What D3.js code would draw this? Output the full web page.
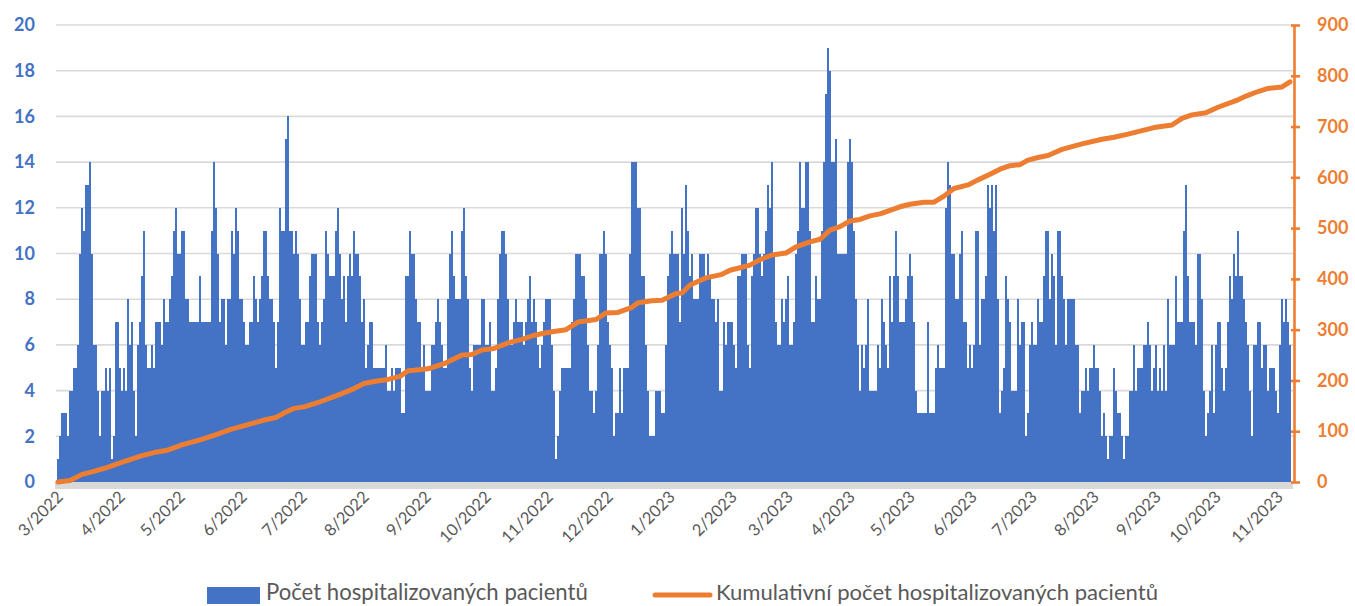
<!DOCTYPE html>
<html>
<head>
<meta charset="utf-8">
<script src="https://cdn.jsdelivr.net/npm/d3@7"></script>
<style>
  html, body { margin: 0; padding: 0; background: #fff; }
  svg { display: block; }
  text { font-family: Lato, "Open Sans", "Liberation Sans", sans-serif; }
</style>
</head>
<body>
<svg id="chart" width="1355" height="606"></svg>
<script>
// ---------------- DATA ----------------
const startDate = "2022-03-01";
const seriesBarName = "Počet hospitalizovaných pacientů";
const seriesLineName = "Kumulativní počet hospitalizovaných pacientů";

// daily number of hospitalised patients (one value per day from startDate)
const dailyCounts = [
  1,2,3,3,3,2,4,4,5,5,6,10,12,11,13,13,14,10,6,6,4,2,4,4,5,4,5,1,2,7,7,5,4,5,4,8,6,7,4,2,6,7,9,11,6,5,5,6,5,7,7,7,6,8,7,7,8,9,11,12,10,
  10,11,11,8,8,7,7,7,7,7,9,7,7,7,7,7,11,14,12,10,7,8,8,6,8,8,11,10,12,11,8,8,7,6,6,7,7,9,8,7,8,9,11,11,9,8,8,7,5,7,12,11,11,15,16,11,11,10,11,10,8,6,
  6,7,7,9,10,10,10,7,6,7,8,11,10,9,9,9,11,12,10,8,9,7,9,10,9,11,10,10,9,7,8,5,6,7,7,5,5,5,5,5,5,6,4,4,5,4,5,5,5,3,3,9,9,11,10,10,8,7,7,5,6,4,
  4,4,6,6,7,8,7,6,5,5,8,10,11,9,8,8,8,11,12,9,8,5,4,6,6,6,6,8,8,6,6,7,4,4,5,8,10,11,11,10,8,6,6,7,8,7,7,7,6,7,8,9,7,8,7,6,5,6,7,8,8,8,
  6,4,1,2,4,5,5,5,5,5,7,8,10,10,10,9,9,8,6,4,4,3,4,6,10,10,11,10,7,6,5,2,3,3,5,3,5,5,5,10,14,14,14,12,12,9,9,6,4,2,2,2,4,4,4,3,3,6,9,10,11,10,
  10,10,7,12,10,13,11,9,10,8,8,8,10,10,10,9,10,9,8,8,7,8,4,4,7,6,7,7,7,6,5,9,9,10,10,10,6,5,9,10,12,12,10,9,10,11,13,12,14,10,7,6,6,8,7,8,9,6,6,7,10,11,
  14,12,12,14,14,11,7,7,9,8,8,11,14,17,19,18,14,14,15,10,10,10,10,10,14,15,14,11,8,6,4,6,5,6,8,4,4,4,4,6,5,8,7,6,5,9,7,9,11,9,7,7,7,8,9,10,9,7,4,3,3,3,
  3,3,7,3,3,3,5,6,5,5,5,12,14,13,10,10,8,8,10,11,7,7,5,6,5,6,11,11,6,8,8,9,13,12,13,11,13,8,3,4,5,9,8,7,4,4,4,8,6,7,7,2,3,6,7,6,6,8,7,7,9,11,
  11,8,10,9,6,11,11,9,8,6,8,8,8,8,6,6,3,4,4,5,4,5,5,6,5,5,4,2,3,2,1,2,2,5,4,3,3,2,1,2,2,4,4,6,4,5,5,5,6,6,7,6,4,5,6,4,5,4,6,4,8,6,
  6,6,9,7,7,7,11,13,9,7,7,7,6,10,10,8,4,2,3,4,6,3,6,7,7,5,4,5,7,9,8,10,9,11,9,9,8,7,6,4,2,6,6,7,7,5,6,6,4,5,5,5,4,3,6,8,7,8,7,6
];

// cumulative count read at sampled days (day index counted from startDate)
const cumDay = [0,6,12,17,24,30,36,42,48,54,60,61,71,78,86,94,103,109,114,118,123,131,140,148,153,158,165,171,175,178,185,193,202,207,212,218,225,232,238,247,254,260,269,274,280,287,290,297,302,309,312,316,324,332,336,341,346,351,357,364,369,376,381,386,391,396,401,406,411,416,421,426,433,438,443,448,455,460,466,471,476,481,485,490,495,502,512,522,528,535,542,548,557,562,567,574,580,589,594,600,605,612,616];
const cumValue = [0,3,15,20,28,36,44,52,58,62,70,72,83,92,103,112,122,127,138,145,148,158,171,184,194,198,202,208,219,220,223,233,250,251,260,263,274,281,289,296,300,315,320,333,334,344,353,357,358,371,372,388,402,409,417,422,427,438,447,451,463,473,478,496,503,514,517,524,528,535,542,547,551,551,563,578,585,595,606,616,623,625,634,639,643,655,666,675,679,685,692,698,703,716,723,727,738,751,760,769,775,778,788];

const leftTicks = [0,2,4,6,8,10,12,14,16,18,20];
const rightTicks = [0,100,200,300,400,500,600,700,800,900];

// ---------------- CHART ----------------
const BLUE = "#4472C4", ORANGE = "#ED7D31", GRID = "#D9D9D9", TEXT = "#595959";
const svg = d3.select("#chart");
const parse = d3.utcParse("%Y-%m-%d");
const t0 = parse(startDate);
const nDays = dailyCounts.length;
const tEnd = d3.utcDay.offset(t0, nDays);

const plotL = 57, plotR = 57 + nDays * 2, yTop = 25, yBot = 482;

const x = d3.scaleUtc().domain([t0, tEnd]).range([plotL, plotR]);
const yL = d3.scaleLinear().domain([0, 20]).range([yBot, yTop]);
const yR = d3.scaleLinear().domain([0, 900]).range([yBot, yTop]);

// gridlines
svg.append("g").selectAll("line").data(leftTicks.filter(d => d > 0)).join("line")
  .attr("x1", plotL - 1).attr("x2", plotR + 2)
  .attr("y1", d => yL(d)).attr("y2", d => yL(d))
  .attr("stroke", GRID).attr("stroke-width", 1.6);

// bars
const bars = dailyCounts.map((v, i) => ({ date: d3.utcDay.offset(t0, i), v }));
svg.append("g").attr("shape-rendering", "crispEdges")
  .selectAll("rect").data(bars).join("rect")
  .attr("x", d => x(d.date))
  .attr("width", d => x(d3.utcDay.offset(d.date, 1)) - x(d.date))
  .attr("y", d => yL(d.v))
  .attr("height", d => yL(0) - yL(d.v))
  .attr("fill", BLUE);

// category axis band (daily ticks)
svg.append("rect").attr("x", plotL - 2).attr("y", yBot).attr("width", plotR - plotL + 4).attr("height", 7)
  .attr("fill", GRID);

// x axis labels
const months = d3.utcMonth.range(t0, tEnd);
const fmt = d => (d.getUTCMonth() + 1) + "/" + d.getUTCFullYear();
svg.append("g").selectAll("text").data(months).join("text")
  .attr("transform", d => `translate(${x(d) + 3},${yBot + 12}) rotate(-45)`)
  .attr("text-anchor", "end")
  .attr("dy", "0.35em")
  .attr("fill", TEXT)
  .style("font-size", "16.5px")
  .text(fmt);

// cumulative line
const cum = cumDay.map((d, i) => ({ date: d3.utcDay.offset(t0, d), v: cumValue[i] }));
svg.append("path").datum(cum)
  .attr("fill", "none").attr("stroke", ORANGE).attr("stroke-width", 5)
  .attr("stroke-linejoin", "round").attr("stroke-linecap", "round")
  .attr("d", d3.line().x(d => x(d.date) + 1).y(d => yR(d.v)));

// left axis
const gL = svg.append("g").attr("transform", "translate(40,0)")
  .call(d3.axisLeft(yL).tickValues(leftTicks).tickSize(0).tickPadding(5));
gL.select(".domain").remove();
gL.selectAll("text").attr("fill", BLUE).style("font-size", "18px").style("font-weight", "bold")
  .style("font-family", "Lato, 'Open Sans', sans-serif");

// right axis
const axX = plotR + 3;
const gR = svg.append("g").attr("transform", `translate(${axX},0)`)
  .call(d3.axisRight(yR).tickValues(rightTicks).tickSize(6).tickSizeOuter(0).tickPadding(17));
gR.select(".domain").attr("stroke", ORANGE).attr("stroke-width", 2.6);
gR.selectAll(".tick line").attr("stroke", ORANGE).attr("stroke-width", 2.6).attr("x1", -3);
gR.selectAll("text").attr("fill", ORANGE).style("font-size", "18px").style("font-weight", "bold")
  .style("font-family", "Lato, 'Open Sans', sans-serif");

// legend
function fitText(sel, target) {
  const len = sel.node().getComputedTextLength();
  const fs = parseFloat(sel.style("font-size"));
  sel.style("font-size", (fs * target / len) + "px");
}
const lg = svg.append("g");
lg.append("rect").attr("x", 207).attr("y", 587).attr("width", 53).attr("height", 17).attr("fill", BLUE);
const t1 = lg.append("text").attr("x", 266).attr("y", 592).attr("dy", "0.35em")
  .attr("fill", TEXT).style("font-size", "19px").text(seriesBarName);
fitText(t1, 322);
lg.append("line").attr("x1", 655).attr("x2", 710).attr("y1", 595).attr("y2", 595)
  .attr("stroke", ORANGE).attr("stroke-width", 5).attr("stroke-linecap", "round");
const t2 = lg.append("text").attr("x", 716).attr("y", 592).attr("dy", "0.35em")
  .attr("fill", TEXT).style("font-size", "19px").text(seriesLineName);
fitText(t2, 442);
</script>
</body>
</html>
